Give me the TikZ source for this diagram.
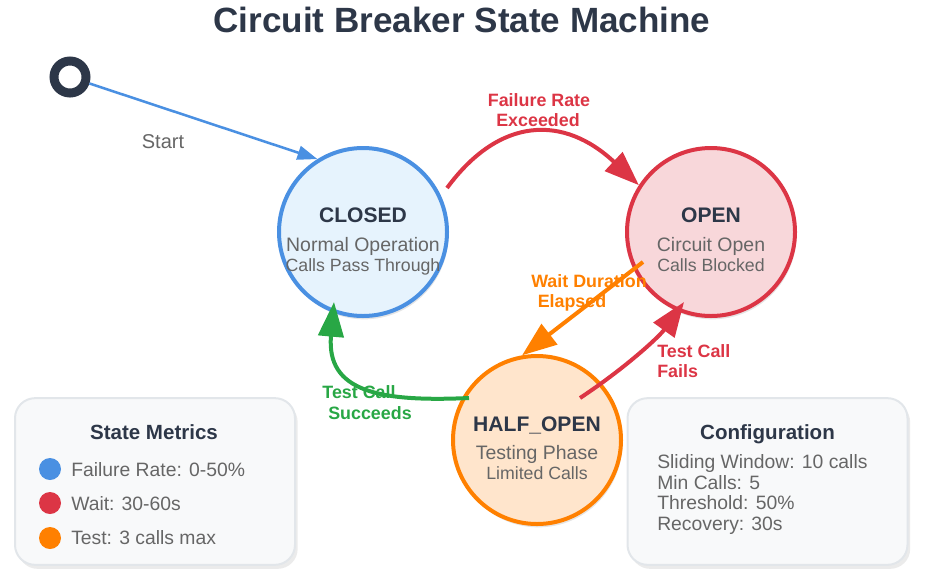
\documentclass[tikz,border=0pt]{standalone}
\usepackage{fontspec}
\setmainfont{Liberation Sans}
\usetikzlibrary{arrows.meta,shadows}
\definecolor{ink}{HTML}{2D3748}
\definecolor{txtgray}{HTML}{666666}
\definecolor{cblue}{HTML}{4A90E2}
\definecolor{cred}{HTML}{DC3545}
\definecolor{corange}{HTML}{FF8000}
\definecolor{cgreen}{HTML}{28A745}
\definecolor{fblue}{HTML}{E6F3FD}
\definecolor{fred}{HTML}{F8D7DA}
\definecolor{forange}{HTML}{FFE5CC}
\definecolor{boxfill}{HTML}{F8F9FA}
\definecolor{boxline}{HTML}{E2E6EA}
\begin{document}
\begin{tikzpicture}[x=0.75pt,y=-0.75pt,
  statecirc/.style={circle, minimum size=126pt, inner sep=0pt, line width=3pt,
    drop shadow={shadow xshift=1pt, shadow yshift=-2.5pt, opacity=0.10, fill=black}},
  stname/.style={anchor=base, inner sep=0pt, text=ink, font=\bfseries\fontsize{15.8}{18}\selectfont},
  stsub/.style={anchor=base, inner sep=0pt, text=txtgray, font=\fontsize{14.6}{17}\selectfont},
  stsubb/.style={anchor=base, inner sep=0pt, text=txtgray, font=\fontsize{13.3}{15}\selectfont},
  elbl/.style={anchor=base, inner sep=0pt, font=\bfseries\fontsize{13.4}{16}\selectfont},
  conn/.style={line width=3pt, -{Triangle[length=26pt,width=19pt]}},
  infobox/.style={draw=boxline, line width=1.5pt, fill=boxfill, rounded corners=15pt,
    minimum width=210pt, minimum height=125pt, inner sep=0pt,
    drop shadow={shadow xshift=2pt, shadow yshift=-3pt, opacity=0.08, fill=black}},
  boxtitle/.style={anchor=base, inner sep=0pt, text=ink, font=\bfseries\fontsize{15.4}{18}\selectfont},
  boxitem/.style={anchor=base west, inner sep=0pt, text=txtgray, font=\fontsize{14.5}{17}\selectfont},
  dot/.style={circle, minimum size=16.5pt, inner sep=0pt}
]
\useasboundingbox (0,0) rectangle (930,586);

% title
\node[anchor=base, inner sep=0pt, text=ink, font=\bfseries\fontsize{26.3}{30}\selectfont] (title) at (462,32) {Circuit Breaker State Machine};

% states
\node[statecirc, draw=cblue, fill=fblue] (closed) at (363,232) {};
\node[statecirc, draw=cred, fill=fred] (open) at (711,232) {};
\node[statecirc, draw=corange, fill=forange] (half) at (537,440) {};

\node[stname] (closedN) at (363,222) {CLOSED};
\node[stsub] (closedA) at (363,251) {Normal Operation};
\node[stsubb] (closedB) at (363,271) {Calls Pass Through};

\node[stname] (openN) at (711,222) {OPEN};
\node[stsub] (openA) at (711,251) {Circuit Open};
\node[stsubb] (openB) at (711,271) {Calls Blocked};

\node[stname] (halfN) at (537,431) {HALF\_OPEN};
\node[stsub] (halfA) at (537,459) {Testing Phase};
\node[stsubb] (halfB) at (537,479) {Limited Calls};

% start
\node[circle, draw=ink, line width=6.75pt, fill=white, minimum size=24pt, inner sep=0pt] (start) at (70,77) {};
\draw[cblue, line width=1.9pt, -{Triangle[length=15pt,width=10.5pt]}] (start) -- (closed.122);
\node[anchor=base, inner sep=0pt, text=txtgray, font=\fontsize{15}{18}\selectfont] (startlbl) at (163,148) {Start};

% free connector ends
\coordinate (fA) at (447,188);
\coordinate (wA) at (643,262);
\coordinate (tfA) at (580,398);
\coordinate (tfB) at (684,302);
\coordinate (tsA) at (469,398);
\coordinate (tsB) at (334,302);

% transitions
\draw[conn, cred] (fA) .. controls (500,116) and (564,115) .. (open.147);
\draw[conn, corange] (wA) -- (half.100);
\draw[conn, cred] (tfA) .. controls (624,369) and (659,337) .. (tfB);
\draw[conn, cgreen] (tsA) .. controls (380,402) and (326,392) .. (tsB);

% transition labels
\node[elbl, text=cred] (lf1) at (539,106) {Failure Rate};
\node[elbl, text=cred] (lf2) at (538,126) {Exceeded};
\node[elbl, text=corange] (lw1) at (589,287) {Wait Duration};
\node[elbl, text=corange] (lw2) at (572,307) {Elapsed};
\node[elbl, anchor=base west, text=cred] (lt1) at (657,357) {Test Call};
\node[elbl, anchor=base west, text=cred] (lt2) at (657,377) {Fails};
\node[elbl, text=cgreen] (ls1) at (359,398) {Test Call};
\node[elbl, text=cgreen] (ls2) at (370,419) {Succeeds};

% info boxes
\node[infobox] (metrics) at (155,481.5) {};
\node[boxtitle] (metricsT) at (154,439) {State Metrics};
\node[dot, fill=cblue] (d1) at (50,469) {};
\node[dot, fill=cred] (d2) at (50,503) {};
\node[dot, fill=corange] (d3) at (50,538) {};
\node[boxitem] (m1) at (71,476) {Failure Rate: 0-50\%};
\node[boxitem] (m2) at (71,510) {Wait: 30-60s};
\node[boxitem] (m3) at (71,544) {Test: 3 calls max};

\node[infobox] (config) at (767.5,481.5) {};
\node[boxtitle] (configT) at (767.5,439) {Configuration};
\node[boxitem] (c1) at (657,468) {Sliding Window: 10 calls};
\node[boxitem] (c2) at (657,489) {Min Calls: 5};
\node[boxitem] (c3) at (657,509) {Threshold: 50\%};
\node[boxitem] (c4) at (657,530) {Recovery: 30s};
\end{tikzpicture}
\end{document}
